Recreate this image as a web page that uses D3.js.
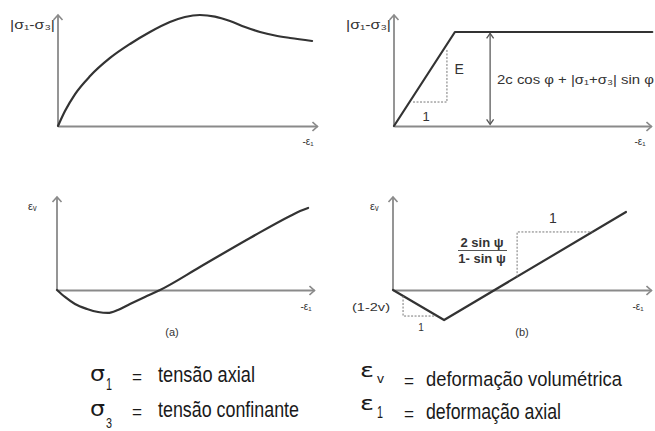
<!DOCTYPE html>
<html><head><meta charset="utf-8">
<script src="https://cdn.jsdelivr.net/npm/d3@7"></script>
<style>
body{margin:0;background:#fff;}
svg{display:block;}
text{font-family:"Liberation Sans",Arial,sans-serif;fill:#333;}
.leg{font-family:"Liberation Sans",Arial,sans-serif;fill:#1a1a1a;}
</style></head>
<body>
<svg id="c" width="655" height="431"></svg>
<script>
// ---- data (arbitrary normalised units, 0..100) ----
// (a) stress-strain, top-left
const strainA = [0, 2.7, 6.6, 12.4, 20.1, 27.8, 35.5, 43.2, 49.0, 54.8, 60.6, 66.4, 72.2, 78.0, 83.8, 89.6, 98.1];
const stressA = [0, 13.5, 28.8, 45.0, 61.3, 73.9, 84.7, 93.7, 98.2, 100, 98.6, 94.6, 89.2, 84.7, 81.5, 79.3, 76.6];
// (a) volumetric strain, bottom-left
const strainAv = [0, 3.1, 7.0, 11.7, 16.0, 19.8, 23.7, 28.4, 34.2, 40.1, 55.6, 75.1, 90.7, 94.6, 97.7];
const volA = [0, -7.5, -15.1, -20.4, -23.7, -24.7, -21.5, -15.1, -7.5, 0, 24.7, 55.9, 79.6, 84.9, 88.2];
// (b) elastic-perfectly plastic, top-right
const strainB = [0, 23.7, 100.5];
const stressB = [0, 84.7, 84.7];
// (b) volumetric strain, bottom-right
const strainBv = [0, 19.8, 90.3];
const volB = [0, -32.3, 83.9];
// axis labels & annotations
const yLabelTop = "|σ₁-σ₃|";
const yLabelBottom = "εᵥ";
const xLabel = "-ε₁";
const panelLabels = ["(a)", "(b)"];
const yieldLabel = "2c cos φ + |σ₁+σ₃| sin φ";
const legendLeft = [["σ","1","tensão axial"],["σ","3","tensão confinante"]];
const legendRight = [["ε","v","deformação volumétrica"],["ε","1","deformação axial"]];

const svg = d3.select("#c");
const defs = svg.append("defs");
defs.append("marker").attr("id","arr").attr("viewBox","-6 -6 12 12")
  .attr("refX",0).attr("refY",0).attr("markerWidth",12).attr("markerHeight",12)
  .attr("markerUnits","userSpaceOnUse").attr("orient","auto-start-reverse")
  .append("path").attr("d","M-5,-4.5 L0,0 L-5,4.5").attr("fill","none")
  .attr("stroke","#8a8a8a").attr("stroke-width",1.6);
defs.append("marker").attr("id","arrD").attr("viewBox","-6 -6 12 12")
  .attr("refX",0).attr("refY",0).attr("markerWidth",12).attr("markerHeight",12)
  .attr("markerUnits","userSpaceOnUse").attr("orient","auto-start-reverse")
  .append("path").attr("d","M-5,-3.5 L0,0 L-5,3.5").attr("fill","none")
  .attr("stroke","#555").attr("stroke-width",1.3);

// scales
const xTL = d3.scaleLinear([0,100],[58,317]);
const yT  = d3.scaleLinear([0,100],[126,15]);
const xTR = d3.scaleLinear([0,100],[394,651]);
const xBL = d3.scaleLinear([0,100],[57,314]);
const yB  = d3.scaleLinear([0,100],[290,197]);
const xBR = d3.scaleLinear([0,100],[393,651]);

function axes(x, y){
  const gx = svg.append("g").attr("transform",`translate(0,${y(0)})`)
    .call(d3.axisBottom(x).tickValues([]).tickSizeOuter(0));
  gx.select(".domain").attr("stroke","#8a8a8a").attr("stroke-width",1.8).attr("marker-end","url(#arr)");
  const gy = svg.append("g").attr("transform",`translate(${x(0)},0)`)
    .call(d3.axisLeft(y).tickValues([]).tickSizeOuter(0));
  gy.select(".domain").attr("stroke","#8a8a8a").attr("stroke-width",1.8)
    .attr("d",`M0,${y(0)}V${y(100)}`).attr("marker-end","url(#arr)");
}
axes(xTL,yT); axes(xTR,yT); axes(xBL,yB); axes(xBR,yB);

function curve(xs, ys, x, y, smooth){
  const line = d3.line().x(d=>x(d[0])).y(d=>y(d[1]));
  if(smooth) line.curve(d3.curveMonotoneX);
  svg.append("path").datum(d3.zip(xs,ys)).attr("d",line)
    .attr("fill","none").attr("stroke","#333").attr("stroke-width",2.2)
    .attr("stroke-linejoin","round").attr("stroke-linecap","round");
}
curve(strainA, stressA, xTL, yT, true);
curve(strainAv, volA, xBL, yB, true);
curve(strainB, stressB, xTR, yT, false);
curve(strainBv, volB, xBR, yB, false);

function dotted(pts, x, y){
  svg.append("path").attr("d", d3.line().x(d=>x(d[0])).y(d=>y(d[1]))(pts))
    .attr("fill","none").attr("stroke","#777").attr("stroke-width",1).attr("stroke-dasharray","2,1.5");
}
// slope triangles
dotted([[7.4,21.6],[20.6,21.6],[20.6,68.5]], xTR, yT);
dotted([[3.9,-6.5],[3.9,-28],[16.7,-28]], xBR, yB);
dotted([[48.1,14.3],[48.1,62.4],[77.3,62.4]], xBR, yB);

// double arrow
svg.append("line").attr("x1",xTR(37.4)).attr("x2",xTR(37.4)).attr("y1",yT(1.5)).attr("y2",yT(83.5))
  .attr("stroke","#666").attr("stroke-width",1.4)
  .attr("marker-start","url(#arrD)").attr("marker-end","url(#arrD)");

// text labels
function txt(x,y,s,size,anchor,extra){
  const t = svg.append("text").attr("x",x).attr("y",y).attr("font-size",size)
    .attr("text-anchor",anchor||"start").text(s);
  if(extra) extra(t);
  return t;
}
const fit = w => t => t.attr("textLength",w).attr("lengthAdjust","spacingAndGlyphs");
txt(10,29,yLabelTop,12,"start",fit(45));
txt(346,29,yLabelTop,12,"start",fit(45));
txt(28,210,yLabelBottom,11,"start");
txt(370,210,yLabelBottom,11,"start");
txt(308,145,xLabel,10,"middle");
txt(640,145,xLabel,10,"middle");
txt(306,310,xLabel,10,"middle");
txt(638,310,xLabel,10,"middle");
txt(172,336,panelLabels[0],11,"middle");
txt(522,336,panelLabels[1],11,"middle");
txt(xTR(23.5),74,"E",14,"start");
txt(xTR(12.5),121,"1",13,"middle");
txt(497,84,yieldLabel,12,"start",fit(157));
txt(482,247,"2 sin ψ",13,"middle",t=>t.attr("font-weight","bold").attr("fill","#444"));
svg.append("line").attr("x1",458).attr("x2",507).attr("y1",250.5).attr("y2",250.5).attr("stroke","#555").attr("stroke-width",1);
txt(482,263,"1- sin ψ",13,"middle",t=>t.attr("font-weight","bold").attr("fill","#444"));
txt(xBR(62),223,"1",14,"middle");
txt(352,311,"(1-2v)",11,"start",fit(38));
txt(421,331,"1",10,"middle");

// legend
const rowY = [382, 417];
legendLeft.forEach((r,i)=>{
  const y0 = rowY[i];
  svg.append("text").attr("class","leg").attr("x",90).attr("y",y0-1).attr("font-size",21)
    .style("font-family","DejaVu Sans").attr("textLength",15).attr("lengthAdjust","spacingAndGlyphs").text(r[0]);
  svg.append("text").attr("class","leg").attr("x",106).attr("y",y0+8+i*3).attr("font-size",i?14:16)
    .attr("textLength",6).attr("lengthAdjust","spacingAndGlyphs").text(r[1]);
  svg.append("text").attr("class","leg").attr("x",132).attr("y",y0+1).attr("font-size",18)
    .attr("textLength",10).attr("lengthAdjust","spacingAndGlyphs").text("=");
  svg.append("text").attr("class","leg").attr("x",158).attr("y",y0).attr("font-size",22)
    .attr("textLength",i?141:97).attr("lengthAdjust","spacingAndGlyphs").text(r[2]);
});
const rowY2 = [386, 419];
legendRight.forEach((r,i)=>{
  const y0 = rowY2[i];
  svg.append("text").attr("class","leg").attr("x",360).attr("y",y0-9).attr("font-size",20)
    .style("font-family","DejaVu Sans").attr("textLength",14).attr("lengthAdjust","spacingAndGlyphs").text(r[0]);
  svg.append("text").attr("class","leg").attr("x",377).attr("y",y0-3+i*2).attr("font-size",i?16:13)
    .attr("textLength",i?6:7).attr("lengthAdjust","spacingAndGlyphs").text(r[1]);
  svg.append("text").attr("class","leg").attr("x",404).attr("y",y0+1).attr("font-size",18)
    .attr("textLength",10).attr("lengthAdjust","spacingAndGlyphs").text("=");
  svg.append("text").attr("class","leg").attr("x",426).attr("y",y0).attr("font-size",i?22:20.5)
    .attr("textLength",i?135:196).attr("lengthAdjust","spacingAndGlyphs").text(r[2]);
});
</script>
</body></html>
